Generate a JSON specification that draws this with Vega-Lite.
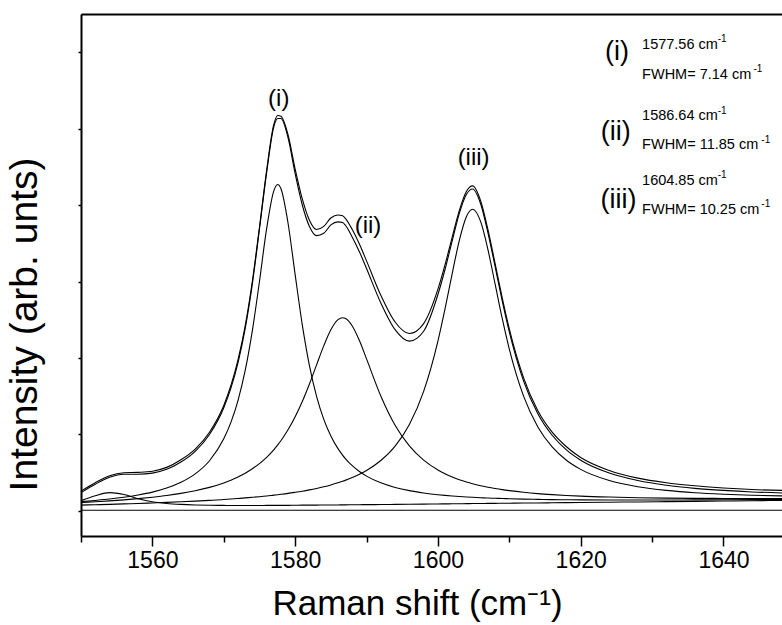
{
  "$schema": "https://vega.github.io/schema/vega-lite/v6.json",
  "autosize": "none",
  "padding": {"left": 81, "top": 14, "right": 0, "bottom": 89},
  "width": 701,
  "height": 522,
  "background": "white",
  "config": {"view": {"stroke": null}, "font": "Arial", "axis": {"grid": false, "domainColor": "black", "tickColor": "black", "labelColor": "black", "titleColor": "black", "titleFontWeight": "normal"}},
  "datasets": {
    "spectra": [
      {"x": 1550, "data": 0.26, "fit": 0.24, "c0": 0.135, "c1": 0.122, "c2": 0.110, "c3": 0.077, "base": 0.01},
      {"x": 1552, "data": 0.37, "fit": 0.35, "c0": 0.200, "c1": 0.138, "c2": 0.121, "c3": 0.082, "base": 0.01},
      {"x": 1554, "data": 0.46, "fit": 0.44, "c0": 0.240, "c1": 0.156, "c2": 0.132, "c3": 0.087, "base": 0.01},
      {"x": 1556, "data": 0.50, "fit": 0.48, "c0": 0.215, "c1": 0.179, "c2": 0.145, "c3": 0.093, "base": 0.01},
      {"x": 1558, "data": 0.505, "fit": 0.48, "c0": 0.160, "c1": 0.209, "c2": 0.161, "c3": 0.098, "base": 0.01},
      {"x": 1560, "data": 0.52, "fit": 0.495, "c0": 0.120, "c1": 0.247, "c2": 0.180, "c3": 0.105, "base": 0.01},
      {"x": 1562, "data": 0.57, "fit": 0.545, "c0": 0.098, "c1": 0.300, "c2": 0.202, "c3": 0.112, "base": 0.01},
      {"x": 1564, "data": 0.67, "fit": 0.640, "c0": 0.086, "c1": 0.375, "c2": 0.230, "c3": 0.120, "base": 0.01},
      {"x": 1566, "data": 0.81, "fit": 0.780, "c0": 0.079, "c1": 0.485, "c2": 0.265, "c3": 0.129, "base": 0.01},
      {"x": 1568, "data": 1.03, "fit": 1.000, "c0": 0.075, "c1": 0.657, "c2": 0.309, "c3": 0.139, "base": 0.01},
      {"x": 1570, "data": 1.38, "fit": 1.350, "c0": 0.073, "c1": 0.943, "c2": 0.367, "c3": 0.150, "base": 0.01},
      {"x": 1571, "data": 1.64, "fit": 1.607, "c0": 0.072, "c1": 1.158, "c2": 0.403, "c3": 0.157, "base": 0.01},
      {"x": 1572, "data": 1.98, "fit": 1.941, "c0": 0.072, "c1": 1.447, "c2": 0.445, "c3": 0.163, "base": 0.01},
      {"x": 1573, "data": 2.42, "fit": 2.385, "c0": 0.072, "c1": 1.837, "c2": 0.494, "c3": 0.171, "base": 0.01},
      {"x": 1574, "data": 3.00, "fit": 2.966, "c0": 0.072, "c1": 2.355, "c2": 0.552, "c3": 0.179, "base": 0.01},
      {"x": 1575, "data": 3.71, "fit": 3.684, "c0": 0.072, "c1": 3.000, "c2": 0.620, "c3": 0.187, "base": 0.01},
      {"x": 1576, "data": 4.45, "fit": 4.42, "c0": 0.073, "c1": 3.687, "c2": 0.702, "c3": 0.196, "base": 0.01},
      {"x": 1577, "data": 5.05, "fit": 5.02, "c0": 0.073, "c1": 4.182, "c2": 0.800, "c3": 0.207, "base": 0.01},
      {"x": 1577.56, "data": 5.17, "fit": 5.13, "c0": 0.074, "c1": 4.268, "c2": 0.864, "c3": 0.213, "base": 0.01},
      {"x": 1578, "data": 5.16, "fit": 5.13, "c0": 0.074, "c1": 4.215, "c2": 0.918, "c3": 0.218, "base": 0.01},
      {"x": 1579, "data": 4.92, "fit": 4.88, "c0": 0.074, "c1": 3.765, "c2": 1.061, "c3": 0.230, "base": 0.01},
      {"x": 1580, "data": 4.47, "fit": 4.41, "c0": 0.075, "c1": 3.089, "c2": 1.231, "c3": 0.244, "base": 0.01},
      {"x": 1581, "data": 4.08, "fit": 4.00, "c0": 0.076, "c1": 2.433, "c2": 1.431, "c3": 0.259, "base": 0.01},
      {"x": 1582, "data": 3.80, "fit": 3.72, "c0": 0.076, "c1": 1.901, "c2": 1.660, "c3": 0.276, "base": 0.01},
      {"x": 1583, "data": 3.68, "fit": 3.60, "c0": 0.077, "c1": 1.499, "c2": 1.910, "c3": 0.295, "base": 0.01},
      {"x": 1584, "data": 3.72, "fit": 3.63, "c0": 0.078, "c1": 1.201, "c2": 2.158, "c3": 0.316, "base": 0.01},
      {"x": 1585, "data": 3.83, "fit": 3.74, "c0": 0.079, "c1": 0.980, "c2": 2.369, "c3": 0.340, "base": 0.01},
      {"x": 1586, "data": 3.87, "fit": 3.78, "c0": 0.079, "c1": 0.815, "c2": 2.501, "c3": 0.368, "base": 0.01},
      {"x": 1586.64, "data": 3.86, "fit": 3.77, "c0": 0.080, "c1": 0.731, "c2": 2.527, "c3": 0.388, "base": 0.01},
      {"x": 1587, "data": 3.83, "fit": 3.74, "c0": 0.080, "c1": 0.689, "c2": 2.519, "c3": 0.400, "base": 0.01},
      {"x": 1588, "data": 3.68, "fit": 3.58, "c0": 0.081, "c1": 0.592, "c2": 2.419, "c3": 0.437, "base": 0.01},
      {"x": 1589, "data": 3.49, "fit": 3.39, "c0": 0.082, "c1": 0.516, "c2": 2.228, "c3": 0.479, "base": 0.01},
      {"x": 1590, "data": 3.27, "fit": 3.17, "c0": 0.083, "c1": 0.456, "c2": 1.988, "c3": 0.530, "base": 0.01},
      {"x": 1592, "data": 2.82, "fit": 2.72, "c0": 0.084, "c1": 0.368, "c2": 1.503, "c3": 0.660, "base": 0.01},
      {"x": 1594, "data": 2.47, "fit": 2.37, "c0": 0.086, "c1": 0.308, "c2": 1.120, "c3": 0.848, "base": 0.01},
      {"x": 1596, "data": 2.32, "fit": 2.22, "c0": 0.088, "c1": 0.266, "c2": 0.850, "c3": 1.131, "base": 0.01},
      {"x": 1598, "data": 2.45, "fit": 2.35, "c0": 0.090, "c1": 0.236, "c2": 0.664, "c3": 1.564, "base": 0.01},
      {"x": 1600, "data": 2.90, "fit": 2.83, "c0": 0.092, "c1": 0.213, "c2": 0.536, "c3": 2.221, "base": 0.01},
      {"x": 1601, "data": 3.22, "fit": 3.16, "c0": 0.093, "c1": 0.204, "c2": 0.486, "c3": 2.644, "base": 0.01},
      {"x": 1602, "data": 3.58, "fit": 3.53, "c0": 0.094, "c1": 0.196, "c2": 0.445, "c3": 3.103, "base": 0.01},
      {"x": 1603, "data": 3.93, "fit": 3.89, "c0": 0.095, "c1": 0.189, "c2": 0.409, "c3": 3.539, "base": 0.01},
      {"x": 1604, "data": 4.18, "fit": 4.14, "c0": 0.096, "c1": 0.183, "c2": 0.379, "c3": 3.851, "base": 0.01},
      {"x": 1604.85, "data": 4.25, "fit": 4.21, "c0": 0.097, "c1": 0.179, "c2": 0.357, "c3": 3.945, "base": 0.01},
      {"x": 1606, "data": 4.05, "fit": 4.01, "c0": 0.098, "c1": 0.174, "c2": 0.331, "c3": 3.779, "base": 0.01},
      {"x": 1607, "data": 3.68, "fit": 3.64, "c0": 0.099, "c1": 0.169, "c2": 0.311, "c3": 3.420, "base": 0.01},
      {"x": 1608, "data": 3.24, "fit": 3.20, "c0": 0.100, "c1": 0.166, "c2": 0.294, "c3": 2.971, "base": 0.01},
      {"x": 1609, "data": 2.79, "fit": 2.75, "c0": 0.101, "c1": 0.163, "c2": 0.279, "c3": 2.520, "base": 0.01},
      {"x": 1610, "data": 2.38, "fit": 2.34, "c0": 0.102, "c1": 0.160, "c2": 0.266, "c3": 2.116, "base": 0.01},
      {"x": 1612, "data": 1.74, "fit": 1.698, "c0": 0.104, "c1": 0.155, "c2": 0.244, "c3": 1.501, "base": 0.01},
      {"x": 1614, "data": 1.31, "fit": 1.271, "c0": 0.105, "c1": 0.152, "c2": 0.227, "c3": 1.099, "base": 0.01},
      {"x": 1616, "data": 1.03, "fit": 0.990, "c0": 0.107, "c1": 0.149, "c2": 0.214, "c3": 0.838, "base": 0.01},
      {"x": 1618, "data": 0.84, "fit": 0.799, "c0": 0.109, "c1": 0.147, "c2": 0.203, "c3": 0.664, "base": 0.01},
      {"x": 1620, "data": 0.70, "fit": 0.664, "c0": 0.111, "c1": 0.145, "c2": 0.194, "c3": 0.544, "base": 0.01},
      {"x": 1624, "data": 0.53, "fit": 0.496, "c0": 0.115, "c1": 0.143, "c2": 0.182, "c3": 0.398, "base": 0.01},
      {"x": 1628, "data": 0.43, "fit": 0.398, "c0": 0.118, "c1": 0.143, "c2": 0.174, "c3": 0.317, "base": 0.01},
      {"x": 1632, "data": 0.37, "fit": 0.336, "c0": 0.122, "c1": 0.143, "c2": 0.168, "c3": 0.269, "base": 0.01},
      {"x": 1636, "data": 0.33, "fit": 0.296, "c0": 0.126, "c1": 0.145, "c2": 0.165, "c3": 0.238, "base": 0.01},
      {"x": 1640, "data": 0.30, "fit": 0.269, "c0": 0.130, "c1": 0.146, "c2": 0.164, "c3": 0.219, "base": 0.01},
      {"x": 1644, "data": 0.28, "fit": 0.249, "c0": 0.134, "c1": 0.148, "c2": 0.163, "c3": 0.206, "base": 0.01},
      {"x": 1648.2, "data": 0.27, "fit": 0.236, "c0": 0.138, "c1": 0.151, "c2": 0.164, "c3": 0.197, "base": 0.01}
    ],
    "bigLabels": [
      {"x": 1577.7, "y": 5.39, "t": "(i)", "fs": 24},
      {"x": 1590.2, "y": 3.73, "t": "(ii)", "fs": 24},
      {"x": 1605.0, "y": 4.61, "t": "(iii)", "fs": 24},
      {"x": 1625.1, "y": 6.0, "t": "(i)", "fs": 27},
      {"x": 1624.9, "y": 4.95, "t": "(ii)", "fs": 27},
      {"x": 1625.3, "y": 4.06, "t": "(iii)", "fs": 27}
    ],
    "smallText": [
      {"x": 1628.6, "y": 6.039, "t": "1577.56 cm"},
      {"x": 1628.6, "y": 5.648, "t": "FWHM= 7.14 cm"},
      {"x": 1628.6, "y": 5.111, "t": "1586.64 cm"},
      {"x": 1628.6, "y": 4.732, "t": "FWHM= 11.85 cm"},
      {"x": 1628.6, "y": 4.261, "t": "1604.85 cm"},
      {"x": 1628.6, "y": 3.882, "t": "FWHM= 10.25 cm"}
    ],
    "superscripts": [
      {"x": 1639.2, "y": 6.131, "t": "-1"},
      {"x": 1644.2, "y": 5.740, "t": "-1"},
      {"x": 1639.2, "y": 5.190, "t": "-1"},
      {"x": 1645.3, "y": 4.811, "t": "-1"},
      {"x": 1639.2, "y": 4.353, "t": "-1"},
      {"x": 1645.3, "y": 3.974, "t": "-1"}
    ]
  },
  "resolve": {"axis": {"x": "independent", "y": "independent"}},
  "layer": [
    {
      "data": {"name": "spectra"},
      "transform": [{"fold": ["base", "c0", "c1", "c2", "c3", "fit", "data"], "as": ["s", "v"]}],
      "mark": {"type": "line", "color": "black", "strokeWidth": 1.1, "interpolate": "monotone", "clip": true},
      "encoding": {
        "x": {"field": "x", "type": "quantitative", "scale": {"domain": [1550, 1648.2], "nice": false, "zero": false},
          "axis": {"orient": "bottom", "values": [1560, 1580, 1600, 1620, 1640], "format": "d", "tickSize": 10, "tickWidth": 1.5, "domainWidth": 2, "labelFontSize": 23, "labelPadding": 3, "labelFont": "Arial",
            "title": "Raman shift (cm⁻¹)", "titleFontSize": 35, "titleFont": "Arial", "titleX": 336, "titleY": 78, "titleBaseline": "alphabetic", "titleAlign": "center", "titleAnchor": null}},
        "y": {"field": "v", "type": "quantitative", "scale": {"domain": [-0.327, 6.497], "nice": false, "zero": false},
          "axis": {"orient": "left", "values": [0, 1, 2, 3, 4, 5, 6], "tickSize": 3, "tickWidth": 1.5, "domainWidth": 2, "labels": false,
            "title": "Intensity (arb. unts)", "titleFontSize": 39, "titleFont": "Arial", "titleAngle": 270, "titleX": -45, "titleY": 310, "titleBaseline": "alphabetic", "titleAlign": "center"}},
        "detail": {"field": "s"}
      }
    },
    {
      "data": {"name": "bigLabels"},
      "mark": {"type": "text", "font": "Arial", "align": "center", "baseline": "middle", "color": "black"},
      "encoding": {
        "x": {"field": "x", "type": "quantitative", "scale": {"domain": [1550, 1648.2], "nice": false, "zero": false},
          "axis": {"orient": "bottom", "values": [1550, 1570, 1590, 1610, 1630, 1650], "tickSize": 6, "tickWidth": 1.5, "labels": false, "domain": false, "title": null}},
        "y": {"field": "y", "type": "quantitative", "scale": {"domain": [-0.327, 6.497], "nice": false, "zero": false}, "axis": null},
        "size": {"field": "fs", "type": "quantitative", "scale": null, "legend": null},
        "text": {"field": "t"}
      }
    },
    {
      "data": {"name": "smallText"},
      "mark": {"type": "text", "fontSize": 14.5, "font": "Arial", "align": "left", "baseline": "alphabetic", "color": "black"},
      "encoding": {
        "x": {"field": "x", "type": "quantitative", "scale": {"domain": [1550, 1648.2], "nice": false, "zero": false},
          "axis": {"orient": "top", "ticks": false, "labels": false, "domainWidth": 2, "title": null}},
        "y": {"field": "y", "type": "quantitative", "scale": {"domain": [-0.327, 6.497], "nice": false, "zero": false}, "axis": null},
        "text": {"field": "t"}
      }
    },
    {
      "data": {"name": "superscripts"},
      "mark": {"type": "text", "fontSize": 10, "font": "Arial", "align": "left", "baseline": "alphabetic", "color": "black"},
      "encoding": {
        "x": {"field": "x", "type": "quantitative", "scale": {"domain": [1550, 1648.2], "nice": false, "zero": false}, "axis": null},
        "y": {"field": "y", "type": "quantitative", "scale": {"domain": [-0.327, 6.497], "nice": false, "zero": false}, "axis": null},
        "text": {"field": "t"}
      }
    }
  ]
}
